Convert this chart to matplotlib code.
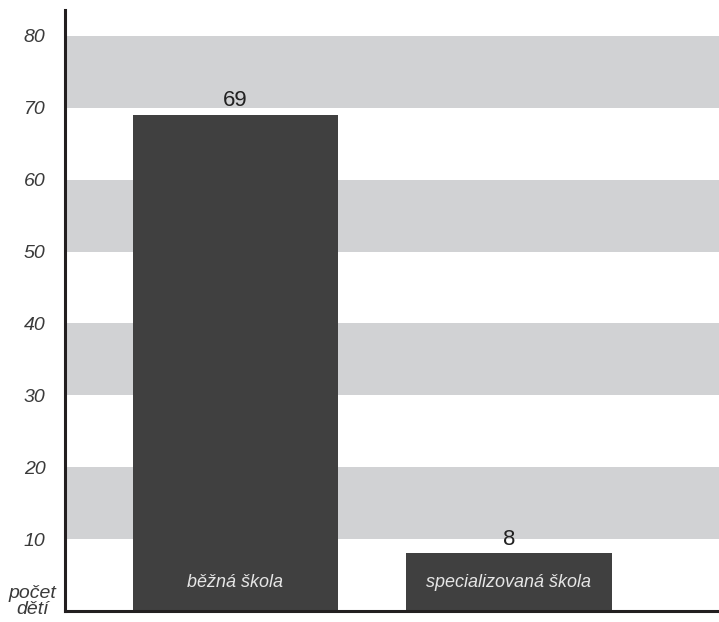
import matplotlib.pyplot as plt

# Number of children by school type
categories = ["běžná škola", "specializovaná škola"]
counts = [69, 8]
band_ranges = [(10, 20), (30, 40), (50, 60), (70, 80)]
y_ticks = [10, 20, 30, 40, 50, 60, 70, 80]

BAR_COLOR = "#404040"
BAND_COLOR = "#d1d2d4"
AXIS_COLOR = "#231f20"
TEXT_COLOR = "#3a3a3a"
FONT = "Liberation Sans"

fig = plt.figure(figsize=(7.19, 6.22), dpi=100)
ax = fig.add_axes([0.0904, 0.0177, 0.9096, 0.9662])

for low, high in band_ranges:
    ax.axhspan(low, high, color=BAND_COLOR, lw=0, zorder=0)

positions = list(range(len(categories)))
bars = ax.bar(positions, counts, width=0.75, color=BAR_COLOR, zorder=2)

for pos, value in zip(positions, counts):
    ax.text(pos, value + 0.5, str(value), ha="center", va="bottom",
            fontsize=16, color="#222222", family=FONT, zorder=3)

for pos, name in zip(positions, categories):
    ax.text(pos, 3.9, name, ha="center", va="center", fontsize=13,
            style="italic", color="#e6e6e6", family=FONT, zorder=3)

ax.set_xlim(-0.623, 1.768)
ax.set_ylim(0, 83.6)

for side in ("top", "right"):
    ax.spines[side].set_visible(False)
for side in ("left", "bottom"):
    ax.spines[side].set_linewidth(2.2)
    ax.spines[side].set_color(AXIS_COLOR)
    ax.spines[side].set_zorder(4)

ax.set_xticks([])
ax.set_yticks(y_ticks)
ax.set_yticklabels([str(t) for t in y_ticks], fontsize=14, style="italic",
                   color=TEXT_COLOR, family=FONT)
ax.tick_params(axis="y", length=0, pad=14)

fig.text(32 / 719, 1 - 594 / 622, "počet", ha="center", va="center",
         fontsize=14, style="italic", color=TEXT_COLOR, family=FONT)
fig.text(33 / 719, 1 - 610 / 622, "dětí", ha="center", va="center",
         fontsize=14, style="italic", color=TEXT_COLOR, family=FONT)

fig.savefig("out.png", dpi=100)
